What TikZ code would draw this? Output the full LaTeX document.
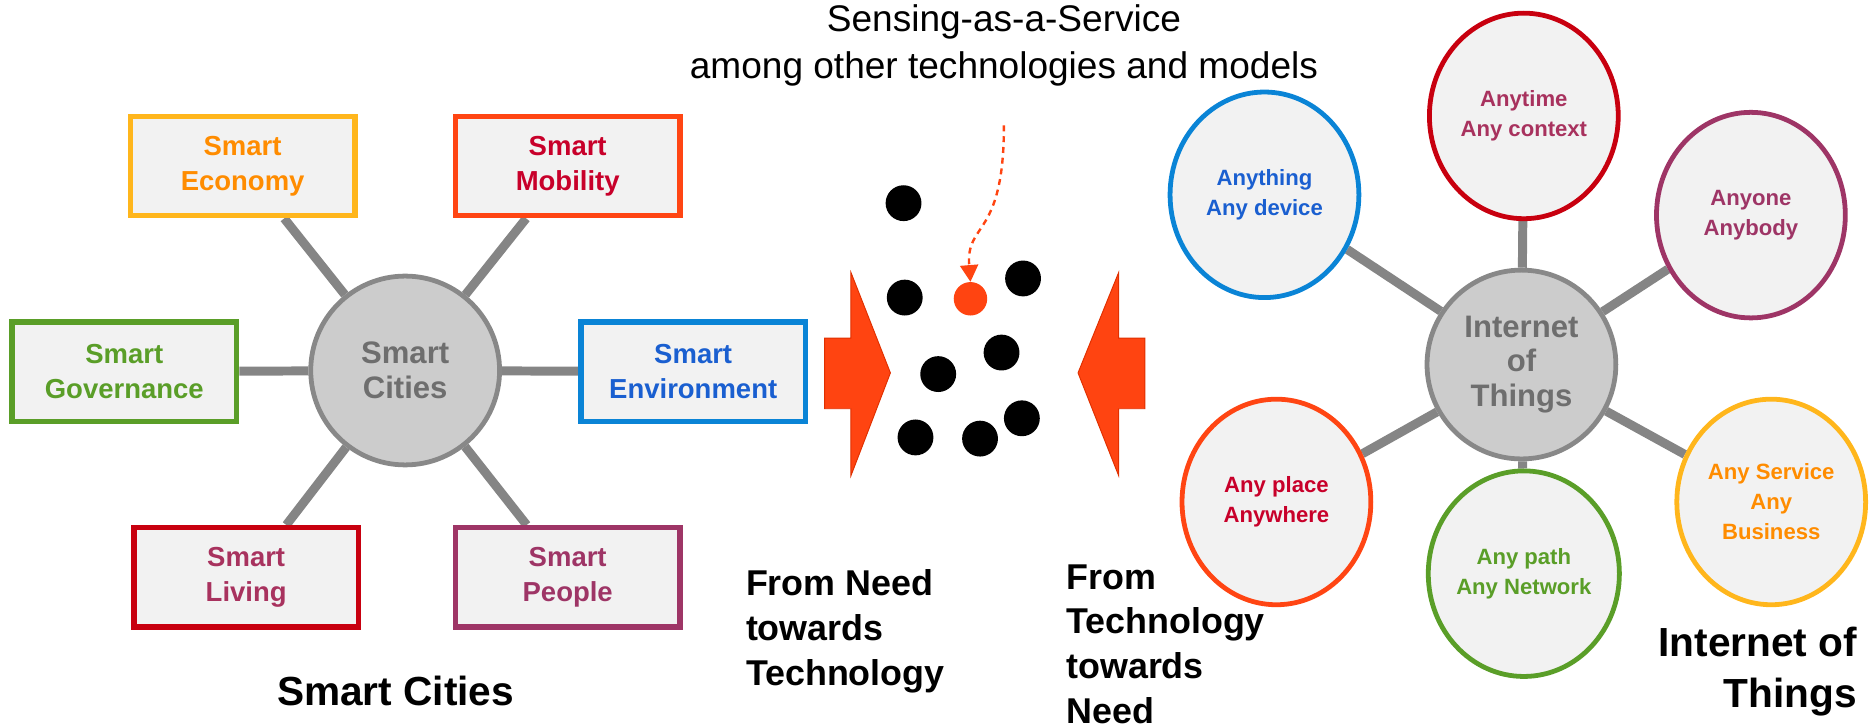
\documentclass[tikz,border=0pt]{standalone}
\usepackage{fontspec}
\setmainfont{Liberation Sans}
\usetikzlibrary{shapes.geometric,arrows.meta,backgrounds}
\definecolor{boxfill}{HTML}{F2F2F2}
\definecolor{hubfill}{HTML}{CCCCCC}
\definecolor{hubline}{HTML}{888888}
\definecolor{hubtext}{HTML}{6E6E6E}
\definecolor{connc}{HTML}{858585}
\definecolor{goldB}{HTML}{FFB61C}
\definecolor{goldT}{HTML}{FF8C00}
\definecolor{oredB}{HTML}{FF4513}
\definecolor{oredT}{HTML}{C8002A}
\definecolor{grnB}{HTML}{5A9E28}
\definecolor{grnT}{HTML}{5A9E28}
\definecolor{bluB}{HTML}{0A84D6}
\definecolor{bluT}{HTML}{1A5FD0}
\definecolor{redB}{HTML}{C8000F}
\definecolor{plumT}{HTML}{A8325E}
\definecolor{purB}{HTML}{9E3566}
\definecolor{arrC}{HTML}{FF4411}
\definecolor{arrL}{HTML}{E03000}
\begin{document}
\begin{tikzpicture}[x=1pt,y=-1pt,
  sbox/.style={draw, line width=4.5pt, fill=boxfill, minimum width=188pt, minimum height=83pt, align=center, font=\bfseries\fontsize{23}{29}\selectfont, inner sep=0pt},
  hub/.style={circle, draw=hubline, fill=hubfill, line width=4pt, minimum size=158pt, align=center, text=hubtext, font=\bfseries\fontsize{26}{29}\selectfont, inner sep=0pt},
  sat/.style={ellipse, draw, line width=4pt, fill=boxfill, minimum width=158pt, minimum height=172pt, align=center, font=\bfseries\fontsize{18.5}{25}\selectfont, inner sep=0pt},
  conn/.style={draw=connc, line width=7.5pt},
  dot/.style={circle, fill=black, minimum size=30pt, inner sep=0pt},
  odot/.style={circle, fill=arrC, minimum size=28pt, inner sep=0pt},
  bigtxt/.style={font=\bfseries\fontsize{30}{37.5}\selectfont, inner sep=0pt},
  arrowshape/.style={fill=arrC, draw=arrL, line width=0.8pt, line join=miter},
]
\useasboundingbox (0,0) rectangle (1568,609);

% ---------- Smart Cities ----------
\node[hub] (sc) at (339,310) {Smart\\Cities};
\node[sbox, draw=goldB, text=goldT] (eco) at (203,139) {Smart\\Economy};
\node[sbox, draw=oredB, text=oredT] (mob) at (475,139) {Smart\\Mobility};
\node[sbox, draw=grnB, text=grnT] (gov) at (104,311) {Smart\\Governance};
\node[sbox, draw=bluB, text=bluT] (env) at (580,311) {Smart\\Environment};
\node[sbox, draw=redB, text=plumT] (liv) at (206,483) {Smart\\Living};
\node[sbox, draw=purB, text=purB] (peo) at (475,483) {Smart\\People};
\node[bigtxt, font=\bfseries\fontsize{34}{40}\selectfont] (sclabel) at (331,578) {Smart Cities};

% ---------- Internet of Things ----------
\node[hub] (iot) at (1273,305) {Internet\\of\\Things};
\node[sat, draw=bluB, text=bluT] (a1) at (1058,163) {Anything\\Any device};
\node[sat, draw=redB, text=plumT] (a2) at (1275,97) {Anytime\\Any context};
\node[sat, draw=purB, text=purB] (a3) at (1465,180) {Anyone\\Anybody};
\node[sat, draw=oredB, text=oredT] (a4) at (1068,420) {Any place\\Anywhere};
\node[sat, draw=grnB, text=grnT] (a5) at (1275,480) {Any path\\Any Network};
\node[sat, draw=goldB, text=goldT] (a6) at (1482,420) {Any Service\\Any\\Business};
\node[bigtxt, align=right, anchor=east, font=\bfseries\fontsize{34}{42}\selectfont] (iotlabel) at (1554,562) {Internet of\\Things};

% ---------- connectors ----------
\begin{scope}[on background layer]
  \foreach \b in {eco,mob,gov,env,liv,peo} \draw[conn] (sc) -- (\b);
  \foreach \b in {a1,a2,a3,a4,a5,a6} \draw[conn] (iot) -- (\b);
\end{scope}

% ---------- middle ----------
\node[font=\fontsize{31}{39}\selectfont, align=center] (saas) at (840,38) {Sensing-as-a-Service\\among other technologies and models};
\node[dot] (d1) at (756,170) {};
\node[dot] (d2) at (757,249) {};
\node[dot] (d3) at (856,233) {};
\node[odot] (od) at (812,250) {};
\node[dot] (d4) at (838,295) {};
\node[dot] (d5) at (785,313) {};
\node[dot] (d6) at (855,350) {};
\node[dot] (d7) at (766,366) {};
\node[dot] (d8) at (820,367) {};
\coordinate (dstart) at (840,105);
\draw[arrC, line width=2pt, dash pattern=on 5pt off 4pt, -{Triangle[width=15pt,length=14pt]}]
  (dstart) .. controls (840,200) and (808,185) .. (od.north);

\fill[arrowshape] (690,283) -- (712,283) -- (712,228) -- (745,312) -- (712,398) -- (712,342) -- (690,342) -- cycle;
\fill[arrowshape] (958,283) -- (936,283) -- (936,228) -- (902,312) -- (936,398) -- (936,342) -- (958,342) -- cycle;

\node[bigtxt, align=left, anchor=west] (need) at (624,528) {From Need\\towards\\Technology};
\node[bigtxt, align=left, anchor=west] (tech) at (892,539) {From\\Technology\\towards\\Need};
\end{tikzpicture}
\end{document}
